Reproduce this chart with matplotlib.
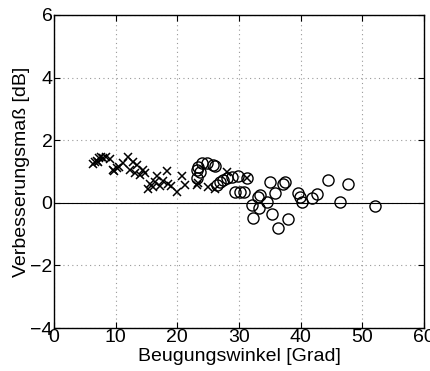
import matplotlib
matplotlib.use('Agg')
import matplotlib.pyplot as plt

# measurements (angle in degrees, improvement in dB)
cross_x = [6.3, 6.6, 6.9, 7.1, 7.3, 7.6, 8.0, 8.4, 9.0, 9.5, 9.8, 10.2, 10.6, 11.2,
           12.0, 12.4, 12.8, 13.1, 13.4, 13.9, 14.4, 14.7, 15.2, 15.6, 16.0, 16.4,
           16.7, 17.2, 17.6, 18.3, 18.5, 19.0, 19.9, 20.7, 21.2, 23.2, 23.3, 25.0,
           26.1, 28.0, 31.3]
cross_y = [1.25, 1.3, 1.35, 1.3, 1.42, 1.45, 1.42, 1.45, 1.4, 1.05, 1.0, 1.1, 1.15, 1.28,
           1.47, 1.05, 1.3, 0.95, 1.2, 0.9, 1.05, 0.95, 0.45, 0.6, 0.5, 0.65,
           0.85, 0.55, 0.7, 1.0, 0.6, 0.55, 0.35, 0.85, 0.57, 0.57, 0.64, 0.5,
           0.45, 0.98, 0.8]

circle_x = [23.2, 23.3, 23.7, 24.0, 24.8, 25.8, 26.1, 23.2, 26.4, 26.9, 27.4, 28.0,
            28.8, 29.8, 31.3, 29.3, 30.1, 30.8, 32.1, 32.3, 33.1, 33.4, 33.2, 34.5,
            35.0, 35.3, 35.8, 36.4, 37.1, 37.5, 37.9, 39.5, 39.9, 40.2, 41.8, 42.6,
            44.4, 46.4, 47.6, 52.0]
circle_y = [1.05, 1.15, 0.99, 1.28, 1.28, 1.2, 1.18, 0.8, 0.57, 0.67, 0.73, 0.8,
            0.82, 0.85, 0.8, 0.35, 0.35, 0.35, -0.08, -0.48, 0.2, 0.25, -0.16, 0.03,
            0.67, -0.35, 0.32, -0.8, 0.6, 0.66, -0.51, 0.3, 0.2, 0.02, 0.16, 0.29,
            0.72, 0.02, 0.6, -0.1]

x_ticks = [0, 10, 20, 30, 40, 50, 60]
y_ticks = [-4, -2, 0, 2, 4, 6]

plt.rcParams['font.family'] = ['Liberation Sans', 'DejaVu Sans']
plt.rcParams['axes.unicode_minus'] = True

fig = plt.figure(figsize=(4.3, 3.71), dpi=100)
ax = fig.add_axes([0.1256, 0.1159, 0.8605, 0.8437])

ax.axhline(0, color='black', linewidth=0.8, zorder=2)
ax.plot(cross_x, cross_y, linestyle='none', marker='x', color='black',
        markersize=5.5, markeredgewidth=1.1, zorder=3)
ax.plot(circle_x, circle_y, linestyle='none', marker='o', markerfacecolor='none',
        markeredgecolor='black', markersize=8, markeredgewidth=1.0, zorder=3)

ax.set_xlim(0, 60)
ax.set_ylim(-4, 6)
ax.set_xticks(x_ticks)
ax.set_yticks(y_ticks)
ax.grid(True, linestyle=(0, (1, 3)), color='#999999', linewidth=0.8, zorder=1)
ax.set_axisbelow(True)
ax.tick_params(direction='in', top=True, right=True, length=4, labelsize=14, pad=1)
for s in ax.spines.values():
    s.set_linewidth(1.0)

ax.set_xlabel('Beugungswinkel [Grad]', fontsize=14, labelpad=1)
ax.set_ylabel('Verbesserungsmaß [dB]', fontsize=14, labelpad=0)

fig.savefig('out.png', dpi=100)
